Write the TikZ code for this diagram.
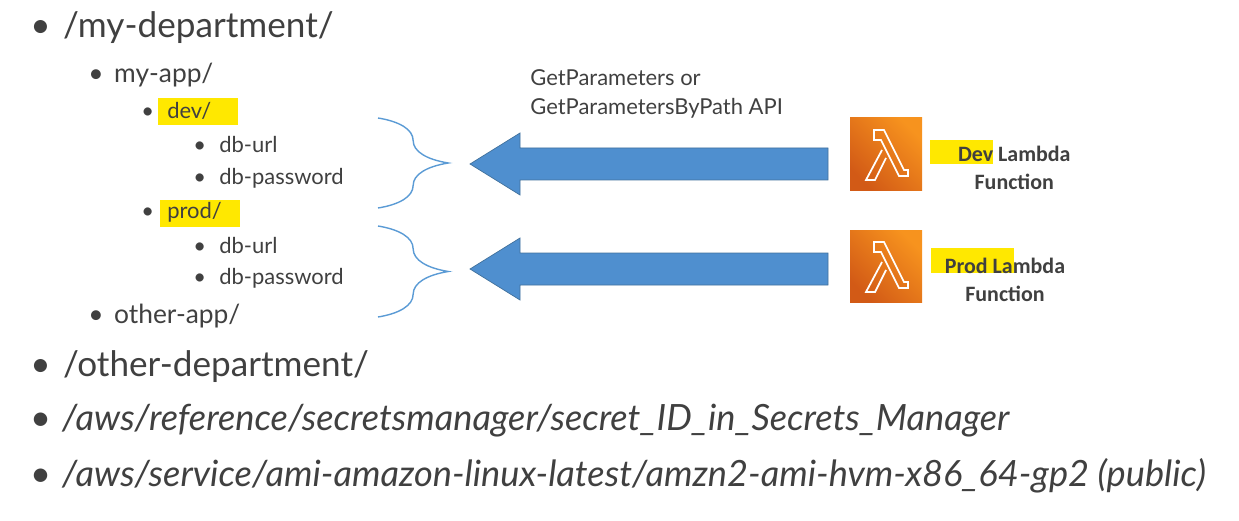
\documentclass[tikz,border=0pt]{standalone}
\usepackage{fontspec}
\setmainfont{Lato}
\newfontfamily\calib{Carlito}
\usetikzlibrary{decorations.pathreplacing}
\definecolor{txt}{HTML}{404040}
\definecolor{hl}{HTML}{FFE800}
\definecolor{arr}{HTML}{4F8FCF}
\definecolor{arrd}{HTML}{41719C}
\definecolor{brc}{HTML}{5B9BD5}
\definecolor{orA}{HTML}{F7931E}
\definecolor{orB}{HTML}{D25A16}
\begin{document}
\begin{tikzpicture}[x=0.02cm,y=-0.02cm,
  t/.style={anchor=west,text=txt,inner sep=0pt},
  L1/.style={t,font=\fontsize{20}{22}\selectfont},
  L2/.style={t,font=\fontsize{15}{18}\selectfont},
  L3/.style={t,font=\fontsize{12.5}{15}\selectfont},
  LI/.style={t,font=\fontsize{20.6}{24}\selectfont\itshape},
  api/.style={t,font=\fontsize{12.5}{14}\selectfont},
  lab/.style={text=txt,align=center,inner sep=0pt,font=\calib\bfseries\fontsize{12.5}{16}\selectfont},
  brace/.style={draw=brc,thick,decorate,decoration={brace,amplitude=40pt,aspect=0.5}},
  icon/.style={minimum size=72*0.02cm,inner sep=0pt,left color=orA,right color=orB,shading angle=-45}]
\useasboundingbox (0,0) rectangle (1239,520);
% highlights
\fill[hl] (158,98) rectangle (238,125);
\fill[hl] (160,200) rectangle (240,227);
\fill[hl] (930,140) rectangle (993,164);
\fill[hl] (931,248) rectangle (1014,273);
% list
\node[L1] (a1) at (30,28) {•\hspace{0.35em}/my-department/};
\node[L2] (a2) at (88,75) {•\hspace{0.4em}my-app/};
\node[L3] (a3) at (141,111) {•\hspace{0.6em}dev/};
\node[L3] (a4) at (193,145) {•\hspace{0.6em}db-url};
\node[L3] (a5) at (193,178) {•\hspace{0.6em}db-password};
\node[L3] (a6) at (141,212) {•\hspace{0.6em}prod/};
\node[L3] (a7) at (193,245) {•\hspace{0.6em}db-url};
\node[L3] (a8) at (193,278) {•\hspace{0.6em}db-password};
\node[L2] (a9) at (88,316) {•\hspace{0.4em}other-app/};
\node[L1] (a10) at (30,367) {•\hspace{0.35em}/other-department/};
\node[LI] (a11) at (30,421) {\upshape•\hspace{0.3em}\itshape/aws/reference/secretsmanager/secret\_ID\_in\_Secrets\_Manager};
\node[LI] (a12) at (30,476) {\upshape•\hspace{0.3em}\itshape/aws/service/ami-amazon-linux-latest/amzn2-ami-hvm-x86\_64-gp2 (public)};
% braces
\coordinate (b1t) at (378,118); \coordinate (b1b) at (378,208);
\coordinate (b2t) at (378,226); \coordinate (b2b) at (378,317);
\draw[brace] (b1t) -- (b1b);
\draw[brace] (b2t) -- (b2b);
% api
\node[api] (api1) at (530,78) {GetParameters or};
\node[api] (api2) at (530,108) {GetParametersByPath API};
% icons
\node[icon] (i1) at (886,154) {};
\node[icon] (i2) at (886,266) {};
\foreach \i in {i1,i2}{
 \draw[white,line width=1pt,line join=miter] ([shift={(-12,-24)}]\i.center) -- ++(10,0) -- ++(20,40) -- ++(4,0) -- ++(0,6) -- ++(-9,0) -- ++(-18,-36) -- ++(-7,0) -- cycle;
 \draw[white,line width=1pt] ([shift={(-4,-4)}]\i.center) -- ++(-16,30) -- ++(9,0) -- ++(11,-22);
}
\node[lab] (l1) at (1000,168) {\hspace*{1.3em}Dev Lambda\\\hspace*{1.3em}Function};
\node[lab] (l2) at (1005,280) {Prod Lambda\\Function};
% arrows
\draw[fill=arr,draw=arrd] (828,148) -- (520,148) -- (520,133) -- (470,164) -- (520,195) -- (520,180) -- (828,180) -- cycle;
\draw[fill=arr,draw=arrd] (828,253) -- (520,253) -- (520,238) -- (470,269) -- (520,300) -- (520,285) -- (828,285) -- cycle;
\end{tikzpicture}
\end{document}
